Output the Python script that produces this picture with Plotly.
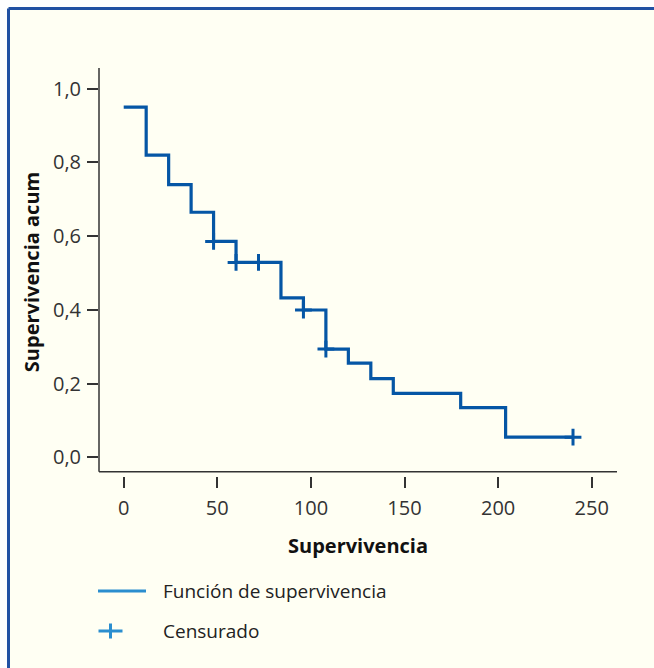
import plotly.graph_objects as go

# ---- data (Kaplan-Meier estimate) ----
times = [0, 12, 24, 36, 48, 60, 84, 96, 108, 120, 132, 144, 180, 204, 240]
survival = [0.95, 0.82, 0.74, 0.665, 0.586, 0.529, 0.433, 0.40, 0.294,
            0.256, 0.214, 0.174, 0.135, 0.055, 0.055]
censored_times = [48, 60, 72, 96, 108, 240]
x_ticks = [0, 50, 100, 150, 200, 250]
y_ticks = [0.0, 0.2, 0.4, 0.6, 0.8, 1.0]
y_tick_labels = ["0,0", "0,2", "0,4", "0,6", "0,8", "1,0"]

x_title = "Supervivencia"
y_title = "Supervivencia acum"
legend_labels = ["Función de supervivencia", "Censurado"]


def step_value(t):
    val = survival[0]
    for ti, si in zip(times, survival):
        if ti <= t:
            val = si
    return val


censored_surv = [step_value(c) for c in censored_times]

# ---- layout geometry (pixels) ----
W, H = 654, 668
ML, MR, MT, MB = 99, 37, 68, 192
PW, PH = W - ML - MR, H - MT - MB


def px(xp):
    return (xp - ML) / PW


def py(yp):
    return (H - MB - yp) / PH


LINE = "#0556A5"
LEG = "#2B8ECF"
BORDER = "#2151A3"
BG = "#FFFFF3"
AX = "#333333"
FONT = "Open Sans"

fig = go.Figure()
fig.add_trace(go.Scatter(
    x=times, y=survival, mode="lines",
    line=dict(color=LINE, width=3.2, shape="hv"),
    showlegend=False, hoverinfo="skip",
))
fig.add_trace(go.Scatter(
    x=censored_times, y=censored_surv, mode="markers",
    marker=dict(symbol="cross-thin", size=12,
                line=dict(color=LINE, width=3)),
    showlegend=False, hoverinfo="skip",
))

shapes = [
    # white strips outside frame
    dict(type="rect", xref="paper", yref="paper", x0=px(-5), x1=px(7),
         y0=py(H + 5), y1=py(-5), fillcolor="white", line=dict(width=0),
         layer="below"),
    dict(type="rect", xref="paper", yref="paper", x0=px(-5), x1=px(W + 5),
         y0=py(7), y1=py(-5), fillcolor="white", line=dict(width=0),
         layer="below"),
    # blue frame
    dict(type="line", xref="paper", yref="paper", x0=px(8.5), x1=px(W + 5),
         y0=py(8.5), y1=py(8.5), line=dict(color=BORDER, width=3)),
    dict(type="line", xref="paper", yref="paper", x0=px(8.5), x1=px(8.5),
         y0=py(8.5), y1=py(H + 5), line=dict(color=BORDER, width=3)),
    # axis lines
    dict(type="line", xref="paper", yref="paper", x0=0, x1=1,
         y0=py(471.7), y1=py(471.7), line=dict(color=AX, width=1.5)),
    dict(type="line", xref="paper", yref="paper", x0=0, x1=0,
         y0=py(471.7), y1=1, line=dict(color=AX, width=1.5)),
    # legend symbols
    dict(type="line", xref="paper", yref="paper", x0=px(98), x1=px(146),
         y0=py(591), y1=py(591), line=dict(color=LEG, width=3)),
    dict(type="line", xref="paper", yref="paper", x0=px(98.5), x1=px(122.5),
         y0=py(631), y1=py(631), line=dict(color=LEG, width=3)),
    dict(type="line", xref="paper", yref="paper", x0=px(110.5), x1=px(110.5),
         y0=py(623.5), y1=py(638.5), line=dict(color=LEG, width=3)),
]

annotations = [
    dict(text=legend_labels[0], xref="paper", yref="paper", x=px(161),
         y=py(591), xanchor="left", yanchor="middle", showarrow=False,
         font=dict(family=FONT, size=19, color="#222222")),
    dict(text=legend_labels[1], xref="paper", yref="paper", x=px(161),
         y=py(631), xanchor="left", yanchor="middle", showarrow=False,
         font=dict(family=FONT, size=19, color="#222222")),
]

fig.update_layout(
    width=W, height=H,
    margin=dict(l=ML, r=MR, t=MT, b=MB, pad=0),
    paper_bgcolor=BG, plot_bgcolor=BG,
    separators=",.",
    font=dict(family=FONT, size=20, color="#333333"),
    shapes=shapes, annotations=annotations,
    showlegend=False,
)
fig.update_xaxes(
    range=[-13.2, 263.5], tickvals=x_ticks, ticks="outside", ticklen=11,
    tickwidth=1.5, tickcolor=AX, showline=False, showgrid=False,
    zeroline=False, tickfont=dict(size=20, color="#333333"),
    ticklabelstandoff=3,
    title=dict(text=x_title, standoff=18,
               font=dict(size=20, color="#111111", weight=700)),
)
fig.update_yaxes(
    range=[-0.0502, 1.0562], tickvals=y_ticks, ticktext=y_tick_labels,
    ticks="outside", ticklen=11, tickwidth=1.5, tickcolor=AX,
    showline=False, showgrid=False, zeroline=False,
    tickfont=dict(size=20, color="#333333"),
    ticklabelstandoff=2,
    title=dict(text=y_title, standoff=7,
               font=dict(size=20, color="#111111", weight=700)),
)

fig.write_html("out.html")
